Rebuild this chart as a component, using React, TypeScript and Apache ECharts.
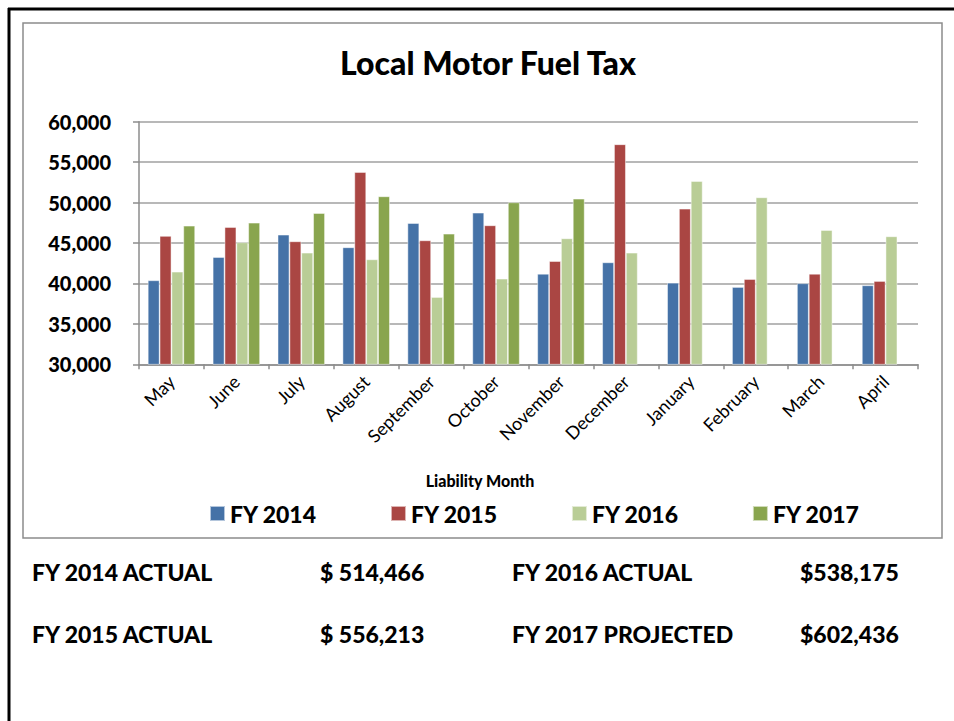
import React, { useEffect, useRef } from "react";
import * as echarts from "echarts";

const months = ["May", "June", "July", "August", "September", "October", "November", "December", "January", "February", "March", "April"];
const seriesNames = ["FY 2014", "FY 2015", "FY 2016", "FY 2017"];
const fy2014 = [40390, 43270, 46030, 44470, 47470, 48750, 41200, 42610, 40090, 39560, 40020, 39770];
const fy2015 = [45870, 46980, 45210, 53780, 45330, 47190, 42770, 57210, 49240, 40550, 41200, 40300];
const fy2016 = [41450, 45090, 43800, 42980, 38320, 40590, 45580, 43800, 52670, 50650, 46610, 45830];
const fy2017 = [47140, 47510, 48710, 50775, 46150, 50030, 50480, 0, 0, 0, 0, 0];
const colors = ["#4572A7", "#AA4643", "#B9CD96", "#89A54E"];
const summaryLabels = [["FY 2014 ACTUAL", "$ 514,466", "FY 2016 ACTUAL", "$538,175"], ["FY 2015 ACTUAL", "$ 556,213", "FY 2017 PROJECTED", "$602,436"]];

const FONT = "Lato, 'Liberation Sans', sans-serif";
const W = 900;

export default function App() {
  const ref = useRef<HTMLDivElement>(null);
  useEffect(() => {
    if (!ref.current) return;
    const chart = echarts.init(ref.current, null, { renderer: "svg" });
    const data = [fy2014, fy2015, fy2016, fy2017];
    const graphics: any[] = [
      { type: "line", shape: { x1: 8, y1: 9, x2: 954, y2: 9 }, style: { stroke: "#000", lineWidth: 3 } },
      { type: "line", shape: { x1: 9, y1: 8, x2: 9, y2: 721 }, style: { stroke: "#000", lineWidth: 3 } },
      { type: "rect", shape: { x: 23, y: 23, width: 919, height: 515 }, style: { fill: "none", stroke: "#8C8C8C", lineWidth: 1.5 } },
      {
        type: "text",
        x: 480,
        y: 480,
        style: { text: "Liability Month", fill: "#000", font: `${W} 16px ${FONT}`, textAlign: "center", textVerticalAlign: "middle" },
      },
    ];
    const xs = [32, 320, 512, 800];
    const ys = [572, 634];
    summaryLabels.forEach((row, r) => {
      row.forEach((t, c) => {
        graphics.push({
          type: "text",
          x: xs[c],
          y: ys[r],
          style: { text: t, fill: "#000", font: `${W} 23px ${FONT}`, textVerticalAlign: "middle" },
        });
      });
    });
    chart.setOption({
      animation: false,
      title: {
        text: "Local Motor Fuel Tax",
        left: 483,
        textAlign: "center",
        top: 41,
        textStyle: { fontFamily: FONT, fontWeight: W, fontSize: 32, color: "#000" },
      },
      legend: {
        data: seriesNames,
        left: 204,
        top: 497,
        itemWidth: 15,
        itemHeight: 15,
        itemGap: 73,
        icon: "rect",
        textStyle: { fontFamily: FONT, fontWeight: W, fontSize: 23, color: "#000" },
      },
      grid: { left: 139, right: 36, top: 121.7, bottom: 356.7, containLabel: false },
      xAxis: {
        type: "category",
        data: months,
        axisLine: { lineStyle: { color: "#8C8C8C", width: 1.5 } },
        axisTick: { show: true, length: 5, lineStyle: { color: "#8C8C8C", width: 1.5 } },
        axisLabel: { rotate: 45, fontFamily: FONT, fontSize: 18, color: "#000", margin: 14, interval: 0 },
      },
      yAxis: {
        type: "value",
        min: 30000,
        max: 60000,
        interval: 5000,
        axisLine: { show: true, lineStyle: { color: "#8C8C8C", width: 1.5 } },
        axisTick: { show: true, length: 6, lineStyle: { color: "#8C8C8C", width: 1.5 } },
        splitLine: { lineStyle: { color: "#A0A0A0", width: 1.5 } },
        axisLabel: {
          fontFamily: FONT,
          fontWeight: W,
          fontSize: 20,
          color: "#000",
          margin: 28,
          formatter: (v: number) => v.toLocaleString("en-US"),
        },
      },
      series: seriesNames.map((n, i) => ({
        name: n,
        type: "bar",
        data: data[i],
        barGap: "0%",
        barCategoryGap: "27%",
        clip: true,
        itemStyle: { color: colors[i], borderColor: "rgba(255,255,255,0.6)", borderWidth: 0.8 },
      })),
      graphic: graphics,
    });
    return () => chart.dispose();
  }, []);
  return <div ref={ref} style={{ position: "fixed", left: 0, top: 0, width: 954, height: 721, background: "#fff" }} />;
}
